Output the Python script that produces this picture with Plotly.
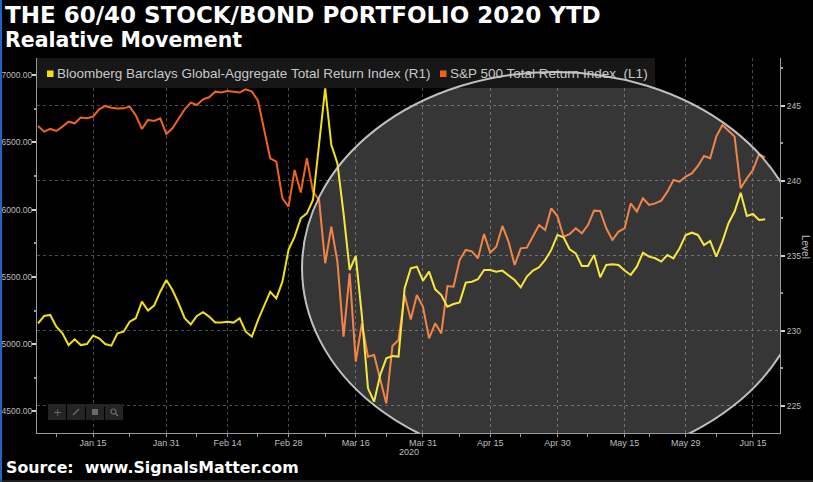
import plotly.graph_objects as go
import pandas as pd

# ---------------- data ----------------
dates = pd.bdate_range("2020-01-02", "2020-06-17")

sp500_tr = [
    6621, 6579, 6599, 6584, 6616, 6653, 6641, 6683, 6678, 6690,
    6745, 6770, 6757, 6750, 6752, 6765, 6700, 6599, 6666, 6658,
    6678, 6562, 6604, 6678, 6745, 6794, 6777, 6819, 6834, 6876,
    6869, 6881, 6876, 6869, 6893, 6876, 6809, 6591, 6381, 6356,
    6084, 6022, 6294, 6126, 6381, 6133, 6071, 5601, 5873, 5613,
    5056, 5526, 4870, 5155, 4907, 4919, 4734, 4560, 4986, 5031,
    5365, 5184, 5365, 5278, 5043, 5155, 5080, 5432, 5427, 5625,
    5700, 5690, 5638, 5818, 5680, 5724, 5878, 5762, 5588, 5712,
    5717, 5799, 5885, 5848, 6009, 5952, 5799, 5818, 5861, 5823,
    5885, 5992, 5990, 5861, 5774, 5836, 5861, 6046, 5985, 6084,
    6034, 6046, 6066, 6133, 6220, 6207, 6245, 6269, 6324, 6398,
    6381, 6542, 6628, 6586, 6542, 6158, 6232, 6294, 6411, 6388,
]

global_agg_tr = [
    230.49, 230.98, 231.05, 230.27, 229.82, 229.04, 229.42, 229.04, 229.11, 229.67,
    229.49, 229.11, 229.00, 229.82, 229.93, 230.60, 230.83, 231.94, 231.34, 231.67,
    232.60, 233.38, 232.71, 231.83, 230.83, 230.42, 230.98, 231.23, 230.94, 230.54,
    230.54, 230.60, 230.54, 230.83, 229.93, 229.60, 230.71, 231.71, 232.60, 232.16,
    233.27, 235.39, 236.28, 237.50, 237.83, 238.72, 242.51, 246.18, 242.40, 241.17,
    237.83, 234.05, 234.99, 231.00, 226.15, 225.26, 227.04, 228.15, 228.31, 228.27,
    232.83, 234.16, 234.27, 233.34, 233.94, 232.76, 232.38, 231.60, 231.78, 231.89,
    233.21, 233.27, 233.43, 234.05, 234.05, 233.94, 234.01, 233.72, 233.38, 232.89,
    233.61, 234.01, 234.23, 234.72, 235.39, 236.39, 236.23, 235.43, 235.16, 234.32,
    234.32, 235.05, 233.56, 234.39, 234.43, 234.39, 234.01, 233.72, 234.27, 235.21,
    234.94, 234.83, 234.61, 235.05, 234.83, 235.50, 236.39, 236.54, 236.39, 235.72,
    235.99, 234.94, 235.94, 237.17, 237.95, 239.21, 237.66, 237.79, 237.39, 237.43,
]

x_tick_dates = ["2020-01-15", "2020-01-31", "2020-02-14", "2020-02-28", "2020-03-16",
                "2020-03-31", "2020-04-15", "2020-04-30", "2020-05-15", "2020-05-29",
                "2020-06-15"]
x_tick_text = ["Jan 15", "Jan 31", "Feb 14", "Feb 28", "Mar 16", "Mar 31",
               "Apr 15", "Apr 30", "May 15", "May 29", "Jun 15"]
x_minor_dates = ["2020-01-07", "2020-01-23", "2020-02-07", "2020-02-21", "2020-03-09",
                 "2020-03-23", "2020-04-08", "2020-04-22", "2020-05-07", "2020-05-21",
                 "2020-06-05"]

left_ticks = [4500, 5000, 5500, 6000, 6500, 7000]
left_tick_text = ["4500.00", "5000.00", "5500.00", "6000.00", "6500.00", "7000.00"]
left_minor = [4750, 5250, 5750, 6250, 6750]
right_ticks = [225, 230, 235, 240, 245]
right_minor = [227.5, 232.5, 237.5, 242.5, 247.5]

name_bond = "Bloomberg Barclays Global-Aggregate Total Return Index (R1)"
name_sp = "S&P 500 Total Return Index  (L1)"

# ---------------- styling ----------------
W_PX, H_PX = 813, 482
L, R, T, B = 37, 33, 58, 49
PW = W_PX - L - R
PH = H_PX - T - B

def px(p):
    return (p - L) / PW

def py(p):
    return (H_PX - B - p) / PH

ORANGE = "#f06418"
YELLOW = "#f2e20c"
TICK_C = "#bdbdbd"
GRID_C = "#4a4a4a"
AXIS_C = "#9a9a9a"
TICK_FONT = dict(family="Liberation Sans, Arial, sans-serif", size=9, color=TICK_C)
YTICK_FONT = dict(family="Liberation Sans, Arial, sans-serif", size=8.5, color=TICK_C)

fig = go.Figure()
fig.add_trace(go.Scatter(x=dates, y=sp500_tr, name=name_sp, mode="lines",
                         line=dict(color=ORANGE, width=2), yaxis="y",
                         showlegend=False))
fig.add_trace(go.Scatter(x=dates, y=global_agg_tr, name=name_bond, mode="lines",
                         line=dict(color=YELLOW, width=2), yaxis="y2",
                         showlegend=False))

ELL = dict(x0="2020-03-03 05:00", x1="2020-06-23 17:30", y0=4110, y1=7022)

shapes = []
# highlight ellipse (fill), clipped to the plot area
shapes.append(dict(type="circle", xref="x", yref="y", **ELL,
                   fillcolor="rgba(255,255,255,0.21)", line=dict(width=0),
                   layer="above"))
# legend background
shapes.append(dict(type="rect", xref="paper", yref="paper",
                   x0=px(37), x1=px(655), y0=py(88), y1=py(58),
                   fillcolor="#171717", line=dict(width=0), layer="above"))
# legend squares
shapes.append(dict(type="rect", xref="paper", yref="paper",
                   x0=px(47), x1=px(53.5), y0=py(77), y1=py(70.5),
                   fillcolor=YELLOW, line=dict(width=0), layer="above"))
shapes.append(dict(type="rect", xref="paper", yref="paper",
                   x0=px(440), x1=px(446.5), y0=py(77), y1=py(70.5),
                   fillcolor=ORANGE, line=dict(width=0), layer="above"))
# ellipse outline
shapes.append(dict(type="circle", xref="x", yref="y", **ELL,
                   fillcolor="rgba(0,0,0,0)", line=dict(color="rgba(210,210,210,0.9)", width=2),
                   layer="above"))
# toolbar
for x0 in (48, 67, 86, 105):
    shapes.append(dict(type="rect", xref="paper", yref="paper",
                       x0=px(x0), x1=px(x0 + 18), y0=py(420), y1=py(404),
                       fillcolor="#242424", line=dict(width=0), layer="above"))
shapes.append(dict(type="line", xref="paper", yref="paper",
                   x0=px(73), x1=px(79), y0=py(415), y1=py(409),
                   line=dict(color="#6a6a6a", width=1.5), layer="above"))
shapes.append(dict(type="rect", xref="paper", yref="paper",
                   x0=px(92), x1=px(98), y0=py(415), y1=py(409),
                   fillcolor="#6a6a6a", line=dict(width=0), layer="above"))
shapes.append(dict(type="circle", xref="paper", yref="paper",
                   x0=px(111), x1=px(116), y0=py(414), y1=py(409),
                   fillcolor="rgba(0,0,0,0)", line=dict(color="#6a6a6a", width=1.2), layer="above"))
shapes.append(dict(type="line", xref="paper", yref="paper",
                   x0=px(115.5), x1=px(118), y0=py(413.5), y1=py(416),
                   line=dict(color="#6a6a6a", width=1.5), layer="above"))
# left blue stripe and bottom rule
shapes.append(dict(type="rect", xref="paper", yref="paper",
                   x0=px(0), x1=px(2), y0=py(482), y1=py(0),
                   fillcolor="#2064c8", line=dict(width=0), layer="above"))
shapes.append(dict(type="line", xref="paper", yref="paper",
                   x0=px(0), x1=px(813), y0=py(481), y1=py(481),
                   line=dict(color="#3c3c3c", width=1), layer="above"))

annotations = []
annotations.append(dict(text="<b>THE 60/40 STOCK/BOND PORTFOLIO 2020 YTD</b>", xref="paper", yref="paper",
                        x=px(3), y=py(15), xanchor="left", yanchor="middle",
                        showarrow=False,
                        font=dict(family="DejaVu Sans, Verdana, sans-serif", size=23, color="white")))
annotations.append(dict(text="<b>Realative Movement</b>", xref="paper", yref="paper",
                        x=px(3), y=py(40), xanchor="left", yanchor="middle",
                        showarrow=False,
                        font=dict(family="DejaVu Sans, Verdana, sans-serif", size=20.5, color="white")))
annotations.append(dict(text="<b>Source:  www.SignalsMatter.com</b>", xref="paper", yref="paper",
                        x=px(4), y=py(467), xanchor="left", yanchor="middle",
                        showarrow=False,
                        font=dict(family="DejaVu Sans, Verdana, sans-serif", size=15.8, color="white")))
LEG_FONT = dict(family="Liberation Sans, Arial, sans-serif", size=13.5, color="#c8c8c8")
annotations.append(dict(text=name_bond, xref="paper", yref="paper",
                        x=px(55), y=py(74), xanchor="left", yanchor="middle",
                        showarrow=False, font=LEG_FONT))
annotations.append(dict(text=name_sp, xref="paper", yref="paper",
                        x=px(448), y=py(74), xanchor="left", yanchor="middle",
                        showarrow=False, font=LEG_FONT))
annotations.append(dict(text="Level", xref="paper", yref="paper",
                        x=px(806), y=py(247), xanchor="center", yanchor="middle",
                        textangle=90, showarrow=False,
                        font=dict(family="Liberation Sans, Arial, sans-serif", size=10, color=TICK_C)))
annotations.append(dict(text="2020", xref="paper", yref="paper",
                        x=px(409), y=py(452), xanchor="center", yanchor="middle",
                        showarrow=False, font=TICK_FONT))
annotations.append(dict(text="+", xref="paper", yref="paper",
                        x=px(57), y=py(412), xanchor="center", yanchor="middle",
                        showarrow=False, font=dict(family="DejaVu Sans", size=11, color="#6a6a6a")))

fig.update_layout(
    width=W_PX, height=H_PX,
    margin=dict(l=L, r=R, t=T, b=B, pad=0, autoexpand=False),
    paper_bgcolor="black", plot_bgcolor="black",
    showlegend=False,
    shapes=shapes, annotations=annotations,
    xaxis=dict(
        type="date", automargin=False,
        range=["2020-01-01 20:00", "2020-06-19 10:20"],
        rangebreaks=[dict(bounds=["sat", "mon"])],
        tickmode="array", tickvals=x_tick_dates, ticktext=x_tick_text,
        ticks="outside", ticklen=3, tickcolor=AXIS_C,
        tickfont=TICK_FONT, ticklabelstandoff=-2,
        showgrid=True, gridcolor=GRID_C, griddash="dot", gridwidth=1,
        showline=True, linecolor=AXIS_C, linewidth=1,
        minor=dict(tickmode="array", tickvals=x_minor_dates, ticks="outside",
                   ticklen=3, tickcolor=AXIS_C, showgrid=False),
        zeroline=False, fixedrange=True,
    ),
    yaxis=dict(
        side="left", range=[4340, 7126], automargin=False,
        tickmode="array", tickvals=left_ticks, ticktext=left_tick_text,
        ticks="outside", ticklen=4, tickcolor="#d0d0d0", tickwidth=1.5,
        tickfont=YTICK_FONT, ticklabelstandoff=-2,
        showgrid=False, zeroline=False,
        showline=True, linecolor=AXIS_C, linewidth=1,
        minor=dict(tickmode="array", tickvals=left_minor, ticks="outside",
                   ticklen=2, tickcolor=AXIS_C),
    ),
    yaxis2=dict(
        side="right", overlaying="y", range=[223.17, 248.2], automargin=False,
        tickmode="array", tickvals=right_ticks, ticktext=[str(v) for v in right_ticks],
        ticks="outside", ticklen=4, tickcolor="#d0d0d0", tickwidth=1.5,
        tickfont=YTICK_FONT,
        showgrid=True, gridcolor=GRID_C, griddash="dot", gridwidth=1,
        zeroline=False, showline=True, linecolor=AXIS_C, linewidth=1,
        minor=dict(tickmode="array", tickvals=right_minor, ticks="outside",
                   ticklen=2, tickcolor=AXIS_C, showgrid=False),
    ),
)

fig.write_html(
    "out.html",
    config={"displayModeBar": False},
    post_script="document.body.style.margin='0';document.body.style.overflow='hidden';",
)
